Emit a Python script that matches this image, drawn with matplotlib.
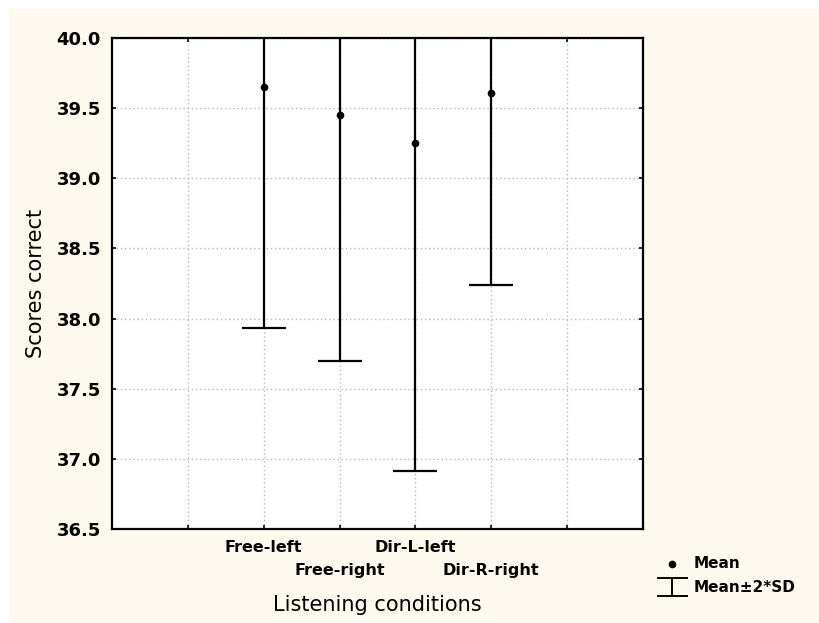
import matplotlib
matplotlib.use("Agg")
import matplotlib.pyplot as plt
import numpy as np
from matplotlib.lines import Line2D
from matplotlib.patches import Rectangle
from matplotlib.transforms import blended_transform_factory

# data
conditions = ["Free-left", "Free-right", "Dir-L-left", "Dir-R-right"]
means = [39.65, 39.45, 39.25, 39.61]
lower = [37.93, 37.70, 36.91, 38.24]   # mean - 2*SD
yticks = [36.5, 37.0, 37.5, 38.0, 38.5, 39.0, 39.5, 40.0]

W, H = 820, 623
bg = "#fef9ef"


def px(x, y):
    return x / W, 1 - y / H


fig = plt.figure(figsize=(W / 100, H / 100), dpi=100, facecolor="white")
fig.add_artist(Rectangle(px(9, 622), (W - 9) / W, (622 - 9) / H,
                         transform=fig.transFigure, facecolor=bg,
                         edgecolor="none", zorder=-10))

ax = fig.add_axes([112 / W, 1 - 529 / H, (643 - 112) / W, (529 - 38) / H])
ax.set_facecolor("white")

x = np.arange(len(conditions)) + 2
half = np.array(means) - np.array(lower)

ax.errorbar(x, means, yerr=half, fmt="o", color="black", markersize=4.5,
            ecolor="black", elinewidth=1.6, capsize=16, capthick=1.6, zorder=3)

ax.set_xlim(0, 7)
ax.set_ylim(36.5, 40.0)
ax.set_yticks(yticks)
ax.set_yticklabels([f"{v:.1f}" for v in yticks], fontsize=13, fontweight="bold")

ax.set_xticks(range(1, 7))
ax.set_xticklabels([])

# staggered category labels, two rows below the axis
trans = blended_transform_factory(ax.transData, ax.transAxes)
row_y = [-19 / 491, -41 / 491]
for i, (xi, name) in enumerate(zip(x, conditions)):
    ax.text(xi, row_y[i % 2], name, transform=trans, ha="center",
            va="center", fontsize=11.5, fontweight="bold")

ax.grid(True, color="#b8b8b8", linestyle=(0, (1, 2)), linewidth=1)
ax.tick_params(direction="in", length=3, width=1.2, top=True, right=True,
               colors="black")
ax.tick_params(axis="y", pad=8)
for s in ax.spines.values():
    s.set_linewidth(1.6)
    s.set_color("black")

ax.set_xlabel("Listening conditions", fontsize=15)
ax.xaxis.set_label_coords(0.5, -66 / 491)
ax.set_ylabel("Scores correct", fontsize=15)
ax.yaxis.set_label_coords(-66 / 531, 0.5)

# legend drawn by hand at bottom right
fig.add_artist(Line2D([px(672, 564)[0]], [px(672, 564)[1]], marker="o",
                      markersize=4.5, color="black", linestyle="none",
                      transform=fig.transFigure))
for a, b in [((672, 578), (672, 596)), ((658, 578), (687, 578)),
             ((658, 596), (687, 596))]:
    fig.add_artist(Line2D([px(*a)[0], px(*b)[0]], [px(*a)[1], px(*b)[1]],
                          color="black", linewidth=1.4,
                          transform=fig.transFigure))
fig.text(*px(694, 564), "Mean", fontsize=11, fontweight="bold", va="center")
fig.text(*px(694, 587), "Mean\u00b12*SD", fontsize=11, fontweight="bold",
         va="center")

fig.savefig("out.png", dpi=100, facecolor="white")
